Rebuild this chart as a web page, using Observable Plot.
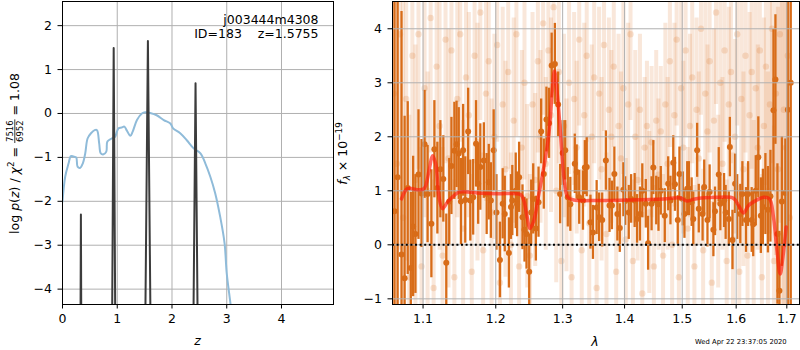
<!DOCTYPE html>
<html><head><meta charset="utf-8">
<script src="https://cdn.jsdelivr.net/npm/d3@7"></script>
<script src="https://cdn.jsdelivr.net/npm/@observablehq/plot@0.6"></script>
<style>
body{margin:0;background:#fff;}
#wrap{position:relative;width:800px;height:350px;overflow:hidden;font-family:"DejaVu Sans";}
#wrap svg{position:absolute;top:0;}
#wrap text{white-space:pre;}
</style></head><body><div id="wrap"></div>
<script>
// ---------- left panel: log p(z) ----------
const pzZ = [0, 0.049, 0.11, 0.153, 0.2, 0.25, 0.275, 0.32, 0.37, 0.415, 0.458, 0.52, 0.587, 0.63, 0.67, 0.70, 0.75, 0.8, 0.82, 0.9, 0.96, 1.02, 1.08, 1.13, 1.18, 1.24, 1.28, 1.36, 1.45, 1.51, 1.60, 1.72, 1.85, 1.97, 2.02, 2.15, 2.27, 2.40, 2.52, 2.61, 2.70, 2.79, 2.88, 2.96, 3.0, 3.07, 3.10];
const pzV = [-2.01, -1.44, -1.14, -0.97, -0.98, -1.0, -1.21, -1.24, -1.14, -0.91, -0.57, -0.45, -0.38, -0.38, -0.68, -0.91, -0.93, -0.87, -0.64, -0.57, -0.53, -0.34, -0.32, -0.30, -0.4, -0.51, -0.42, -0.15, 0.0, 0.03, 0.01, -0.04, -0.15, -0.23, -0.34, -0.45, -0.61, -0.80, -0.91, -1.14, -1.44, -1.82, -2.35, -2.95, -3.64, -4.35, -4.7];
const spikeZ = [0.336, 0.935, 1.56, 2.43];
const spikeH = [-2.3, 1.49, 1.65, 0.69];
const spikeW = [0.006, 0.027, 0.045, 0.036];
const zTicks = [0, 1, 2, 3, 4];
const pTicks = [-4, -3, -2, -1, 0, 1, 2];
const fieldName = "j003444m4308";
const objLine = "ID=183    z=1.5755";

// ---------- right panel: spectrum ----------
const binL = [1.063,1.067,1.072,1.076,1.080,1.084,1.087,1.090,1.094,1.098,
1.102,1.106,1.111,1.115,1.119,1.123,1.127,1.131,1.135,1.138,
1.142,1.145,1.148,1.151,1.154,1.157,1.161,1.164,1.168,1.172,
1.175,1.178,1.183,1.187,1.190,1.193,1.197,1.201,1.206,1.210,
1.213,1.219,1.222,1.224,1.229,1.231,1.234,1.239,1.242,1.245,
1.249,1.252,1.255,1.259,1.263,1.267,1.271,1.275,1.279,1.283,
1.288,1.293,1.296,1.300,1.304,1.308,1.312,1.319,1.322,1.326,
1.332,1.335,1.338,1.344,1.348,1.354,1.358,1.363,1.369,1.375,
1.379,1.383,1.388,1.392,1.398,1.401,1.407,1.411,1.417,1.421,
1.426,1.430,1.436,1.440,1.446,1.449,1.454,1.458,1.462,1.469,
1.475,1.479,1.484,1.487,1.492,1.495,1.501,1.504,1.509,1.512,
1.517,1.520,1.527,1.530,1.537,1.540,1.546,1.550,1.557,1.560,
1.567,1.570,1.577,1.580,1.586,1.588,1.593,1.598,1.602,1.608,
1.612,1.619,1.623,1.630,1.633,1.638,1.643,1.648,1.652,1.657,
1.662,1.667,1.673,1.677,1.681,1.685,1.690,1.697,1.702,1.708];
const binF = [0.62,1.25,-0.18,-0.62,1.05,-0.43,0.34,0.20,1.30,0.95,
1.86,0.94,0.39,1.77,1.05,1.40,1.22,-0.33,0.80,1.46,
1.74,1.86,1.69,0.80,1.75,0.83,2.10,0.82,0.88,1.87,
1.13,1.44,1.56,0.94,1.16,0.82,1.75,0.60,-0.28,0.76,
0.57,-0.15,0.70,0.82,1.00,0.75,1.25,0.51,0.28,0.20,
-0.50,0.60,0.85,0.30,0.79,2.10,1.31,2.32,2.25,3.32,
3.35,2.60,0.94,1.70,1.75,0.88,0.75,1.50,1.35,0.88,
0.82,1.43,1.44,0.42,0.23,0.69,0.51,0.46,1.56,0.73,
0.73,1.31,0.57,0.31,1.02,0.81,0.60,0.85,0.82,0.48,
0.57,1.00,0.76,0.03,0.76,1.43,0.82,0.75,1.00,0.54,
1.13,0.82,1.52,1.12,0.46,1.31,0.85,0.57,1.04,1.04,
0.79,0.48,1.75,0.67,0.57,1.07,0.46,0.98,0.28,0.62,
1.30,0.76,0.82,0.60,0.48,1.81,0.09,1.13,0.70,0.57,
0.94,0.46,0.94,0.46,0.38,1.00,1.62,0.54,0.70,0.94,
0.65,0.90,2.49,3.06,0.20,-0.85,0.80,0.96,2.50,3.00];
const binE = [6,6,4.5,3.0,1.6,1.4,1.3,1.1,1.2,1.0,
1.0,0.9,1.0,0.9,0.85,0.9,0.8,0.9,0.8,0.9,
0.9,0.8,0.85,0.8,0.85,0.8,0.8,0.75,0.7,0.8,
0.75,0.8,0.7,0.75,0.7,0.7,0.75,0.7,0.7,0.65,
0.7,0.65,0.6,0.65,0.7,0.6,0.65,0.6,0.6,0.65,
0.7,0.6,0.65,0.6,0.65,0.6,0.65,0.6,0.65,0.6,
0.75,0.6,0.55,0.6,0.55,0.55,0.5,0.55,0.5,0.5,
0.55,0.5,0.55,0.5,0.5,0.5,0.45,0.5,0.55,0.5,
0.45,0.5,0.5,0.45,0.5,0.45,0.5,0.45,0.5,0.45,
0.5,0.5,0.45,0.5,0.5,0.5,0.45,0.5,0.45,0.5,
0.5,0.45,0.5,0.5,0.45,0.5,0.5,0.45,0.5,0.5,
0.45,0.5,0.5,0.45,0.5,0.5,0.5,0.5,0.5,0.45,
0.5,0.5,0.5,0.5,0.5,0.55,0.55,0.55,0.6,0.55,
0.6,0.6,0.6,0.6,0.6,0.65,0.75,0.7,0.7,0.75,
0.8,0.85,1.5,1.2,1.3,1.1,1.2,1.0,4.0,6.0];

const rawL = [1.062,1.066,1.070,1.074,1.078,1.082,1.086,1.090,1.094,1.098,
1.102,1.106,1.110,1.114,1.118,1.122,1.126,1.130,1.134,1.138,
1.142,1.146,1.150,1.154,1.158,1.162,1.166,1.170,1.174,1.178,
1.182,1.186,1.190,1.194,1.198,1.202,1.206,1.210,1.214,1.218,
1.222,1.226,1.230,1.234,1.238,1.242,1.246,1.250,1.254,1.258,
1.262,1.266,1.270,1.274,1.278,1.282,1.286,1.290,1.294,1.298,
1.302,1.306,1.310,1.314,1.318,1.322,1.326,1.330,1.334,1.338,
1.342,1.346,1.350,1.354,1.358,1.362,1.366,1.370,1.374,1.378,
1.382,1.386,1.390,1.394,1.398,1.402,1.406,1.410,1.414,1.418,
1.422,1.426,1.430,1.434,1.438,1.442,1.446,1.450,1.454,1.458,
1.462,1.466,1.470,1.474,1.478,1.482,1.486,1.490,1.494,1.498,
1.502,1.506,1.510,1.514,1.518,1.522,1.526,1.530,1.534,1.538,
1.542,1.546,1.550,1.554,1.558,1.562,1.566,1.570,1.574,1.578,
1.582,1.586,1.590,1.594,1.598,1.602,1.606,1.610,1.614,1.618,
1.622,1.626,1.630,1.634,1.638,1.642,1.646,1.650,1.654,1.658,
1.662,1.666,1.670,1.674,1.678,1.682,1.686,1.690,1.694,1.698,
1.702,1.706];
const rawF = [2.8,1.5,3.9,0.5,2.7,-0.6,3.5,1.2,3.9,-0.4,
2.9,1.0,4.2,-0.8,3.3,2.2,-0.2,3.8,1.6,3.6,
-0.6,2.7,3.9,0.3,3.1,2.4,-0.5,3.5,1.9,4.3,
-0.1,2.8,3.4,0.6,2.0,3.7,-0.7,2.6,1.4,3.2,
0.0,2.3,3.9,-0.4,1.8,3.0,0.9,-0.2,2.6,1.2,
3.4,2.0,4.1,1.5,3.6,2.4,4.4,1.0,3.2,-0.3,
2.2,1.1,3.0,-0.6,2.7,1.8,3.8,-0.1,2.4,3.5,
0.4,2.0,3.1,-0.8,2.8,1.4,3.7,0.2,2.5,2.0,
3.3,-0.5,2.2,1.6,2.9,0.1,2.6,3.9,-0.3,2.0,
1.2,2.5,-0.9,1.8,2.2,0.6,1.9,-0.4,2.3,1.3,
2.1,-0.2,2.6,1.5,3.4,0.0,2.4,3.8,-0.6,2.9,
1.8,3.6,0.3,2.2,3.1,-0.4,2.5,1.6,4.0,-0.1,
2.8,2.1,3.4,-0.7,2.3,4.3,0.8,3.0,1.5,3.6,
-0.3,2.6,3.2,0.1,2.0,3.9,-0.5,2.7,1.4,3.5,
-0.2,2.4,3.2,0.5,2.9,1.8,3.6,-0.6,2.2,3.3,
1.0,2.6,4.0,-0.3,2.8,1.4,3.9,0.8,2.5,1.8,
3.5,0.5];
const rawE = [5,5,4,4,3,3,2.8,2.5,2.5,2.2,
2.4,2.2,2.5,2.0,2.4,2.3,2.0,2.3,2.4,2.2,
1.8,2.2,2.0,2.0,2.2,1.9,1.8,2.0,2.2,2.0,
1.8,2.0,1.9,2.1,1.9,1.8,1.7,1.8,2.0,1.8,
1.7,1.9,1.9,1.6,1.8,1.8,1.7,1.5,1.7,1.6,
1.7,1.6,1.7,1.6,1.7,1.8,1.8,1.7,1.7,1.6,
1.7,1.6,1.7,1.5,1.6,1.6,1.6,1.5,1.7,1.6,
1.6,1.7,1.6,1.5,1.6,1.7,1.6,1.5,1.7,1.6,
1.5,1.5,1.7,1.6,1.6,1.5,1.5,1.6,1.5,1.6,
1.5,1.4,1.5,1.3,1.2,1.5,1.4,1.5,1.3,1.4,
1.2,1.5,1.5,1.6,1.6,1.5,1.7,1.6,1.5,1.7,
1.6,1.6,1.5,1.7,1.6,1.5,1.7,1.6,1.6,1.5,
1.7,1.6,1.7,1.5,1.7,1.7,1.6,1.7,1.6,1.7,
1.5,1.8,1.7,1.6,1.8,1.7,1.6,1.8,1.8,1.8,
1.7,1.9,1.8,1.8,2.0,1.9,2.0,1.9,2.0,2.2,
2.2,2.4,2.5,2.5,3,3,3.5,4,5,5,
5,6];

const modelL = [1.072, 1.0797, 1.0926, 1.1013, 1.108, 1.1124, 1.1168, 1.1212, 1.1258, 1.1326, 1.1415, 1.1484, 1.1784, 1.2022, 1.2362, 1.241, 1.246, 1.25, 1.256, 1.2635, 1.2711, 1.2788, 1.284, 1.2874, 1.2916, 1.2967, 1.3019, 1.3081, 1.3175, 1.3548, 1.4098, 1.4671, 1.4966, 1.5086, 1.5206, 1.5636, 1.595, 1.6046, 1.6142, 1.6239, 1.6403, 1.6532, 1.6652, 1.6731, 1.68, 1.6866, 1.692, 1.6986];
const modelF = [0.85, 1.04, 1.02, 1.04, 1.38, 1.65, 1.5, 0.88, 0.67, 0.79, 0.91, 0.975, 0.957, 0.944, 0.93, 0.82, 0.51, 0.30, 0.45, 0.94, 1.44, 2.06, 2.86, 3.22, 2.8, 2.06, 1.25, 0.88, 0.83, 0.82, 0.83, 0.85, 0.87, 0.81, 0.845, 0.88, 0.86, 0.73, 0.59, 0.73, 0.83, 0.88, 0.85, 0.51, -0.1, -0.54, -0.23, 0.33];
const lamTicks = [1.1, 1.2, 1.3, 1.4, 1.5, 1.6, 1.7];
const fTicks = [-1, 0, 1, 2, 3, 4];
const stamp = "Wed Apr 22 23:37:05 2020";

// ---------- build tables ----------
const pz = pzZ.map((z, i) => ({z, v: pzV[i]}));
const spikes = spikeZ.flatMap((z, i) => [
  {id: i, z: z - spikeW[i], v: -4.4},
  {id: i, z, v: spikeH[i]},
  {id: i, z: z + spikeW[i], v: -4.4}
]);
const bins = binL.map((l, i) => ({l, f: binF[i], e: binE[i]}));
const raw = rawL.map((l, i) => ({l, f: rawF[i], e: rawE[i]}));
const model = modelL.map((l, i) => ({l, f: modelF[i]}));

const fmt = d => (d < 0 ? "\u2212" : "") + Math.abs(d);
const FS = "12.5px";
const GRID = "#b0b0b0";
const ORANGE = "#d86c18";

const wrap = document.getElementById("wrap");

const left = Plot.plot({
  width: 340, height: 350,
  marginLeft: 62, marginRight: 7, marginTop: 1, marginBottom: 46,
  style: {fontFamily: "DejaVu Sans", fontSize: FS, color: "black", background: "transparent", overflow: "visible"},
  x: {domain: [0, 4.95]},
  y: {domain: [-4.35, 2.55]},
  marks: [
    Plot.gridX(zTicks, {stroke: GRID, strokeOpacity: 1, strokeWidth: 1}),
    Plot.gridY(pTicks, {stroke: GRID, strokeOpacity: 1, strokeWidth: 1}),
    Plot.line(pz, {x: "z", y: "v", stroke: "#8fbbd9", strokeWidth: 2, curve: "catmull-rom", clip: true}),
    Plot.line(spikes, {x: "z", y: "v", z: "id", stroke: "#3c3c3c", strokeWidth: 2, clip: true}),
    Plot.axisX({ticks: zTicks, tickSize: 4.5, tickPadding: 5, label: null, tickFormat: fmt}),
    Plot.axisY({ticks: pTicks, tickSize: 4.5, tickPadding: 6, label: null, tickFormat: fmt}),
    Plot.frame({stroke: "black", strokeWidth: 1}),
    Plot.text([fieldName + "\n" + objLine], {frameAnchor: "top-right", textAnchor: "end", lineAnchor: "top", dx: -15, dy: 13, lineHeight: 1.12, fontSize: 12.5})
  ]
});
left.style.left = "0px";
wrap.appendChild(left);

const right = Plot.plot({
  width: 465, height: 350,
  marginLeft: 57, marginRight: 1, marginTop: 1, marginBottom: 46,
  style: {fontFamily: "DejaVu Sans", fontSize: FS, color: "black", background: "transparent", overflow: "visible"},
  x: {type: "log", domain: [1.0605, 1.726]},
  y: {domain: [-1.105, 4.505]},
  marks: [
    Plot.ruleX(raw, {x: "l", y1: d => d.f - d.e, y2: d => d.f + d.e, stroke: ORANGE, strokeOpacity: 0.16, strokeWidth: 4, clip: true}),
    Plot.dot(raw, {x: "l", y: "f", r: 3.2, fill: ORANGE, fillOpacity: 0.18, stroke: "none", clip: true}),
    Plot.ruleX(bins, {x: "l", y1: d => d.f - d.e, y2: d => d.f + d.e, stroke: ORANGE, strokeWidth: 2.3, clip: true}),
    Plot.dot(bins, {x: "l", y: "f", r: 3, fill: ORANGE, stroke: "none", clip: true}),
    Plot.gridX(lamTicks, {stroke: GRID, strokeOpacity: 1, strokeWidth: 1}),
    Plot.gridY(fTicks, {stroke: GRID, strokeOpacity: 1, strokeWidth: 1}),
    Plot.line(model, {x: "l", y: "f", stroke: "#ff1a0a", strokeOpacity: 0.65, strokeWidth: 3.5, curve: "catmull-rom", clip: true}),
    Plot.ruleY([0], {stroke: "black", strokeWidth: 2, strokeDasharray: "2,2.6"}),
    Plot.axisX({ticks: lamTicks, tickSize: 4.5, tickPadding: 5, label: null, tickFormat: d => d.toFixed(1)}),
    Plot.axisY({ticks: fTicks, tickSize: 4.5, tickPadding: 6, label: null, tickFormat: fmt}),
    Plot.frame({stroke: "black", strokeWidth: 1})
  ]
});
right.style.left = "335px";
wrap.appendChild(right);

// ---------- overlay labels ----------
const ov = d3.select(wrap).append("svg")
  .attr("width", 800).attr("height", 350)
  .style("left", "0px").style("pointer-events", "none")
  .attr("font-family", "DejaVu Sans").attr("fill", "black");

// left y label: log p(z) / chi^2 = 7516/6952 = 1.08
{
  const g = ov.append("g");
  const t1 = g.append("text").attr("font-size", 12.5).attr("x", 0).attr("y", 0);
  t1.append("tspan").text("log ");
  t1.append("tspan").attr("font-style", "italic").text("p");
  t1.append("tspan").text("(");
  t1.append("tspan").attr("font-style", "italic").text("z");
  t1.append("tspan").text(") / ");
  t1.append("tspan").attr("font-style", "italic").text("\u03c7");
  t1.append("tspan").attr("font-size", 8.75).attr("dy", -5).text("2");
  t1.append("tspan").attr("dy", 5).text(" = ");
  const w1 = t1.node().getComputedTextLength();
  const num = g.append("text").attr("font-size", 8.5).attr("text-anchor", "middle").text("7516");
  const den = g.append("text").attr("font-size", 8.5).attr("text-anchor", "middle").text("6952");
  const wf = Math.max(num.node().getComputedTextLength(), den.node().getComputedTextLength()) + 2;
  const cx = w1 + wf / 2;
  num.attr("x", cx).attr("y", -6.3);
  den.attr("x", cx).attr("y", 3.6);
  g.append("line").attr("x1", w1).attr("x2", w1 + wf).attr("y1", -4.2).attr("y2", -4.2).attr("stroke", "black").attr("stroke-width", 0.8);
  const t3 = g.append("text").attr("font-size", 12.5).attr("x", w1 + wf).attr("y", 0).text(" = 1.08");
  const W = w1 + wf + t3.node().getComputedTextLength();
  g.attr("transform", `translate(19,${153.5 + W / 2}) rotate(-90)`);
}
// right y label: f_lambda x 10^-19
{
  const g = ov.append("g");
  const t = g.append("text").attr("font-size", 12.5).attr("x", 0).attr("y", 0);
  t.append("tspan").attr("font-style", "italic").text("f");
  t.append("tspan").attr("font-style", "italic").attr("font-size", 8.75).attr("dy", 3).text("\u03bb");
  t.append("tspan").attr("dy", -3).text(" \u00d7 10");
  t.append("tspan").attr("font-size", 8.75).attr("dy", -5).text("\u221219");
  const W = t.node().getComputedTextLength();
  g.attr("transform", `translate(347,${153.5 + W / 2}) rotate(-90)`);
}
// x labels
ov.append("text").attr("x", 197.5).attr("y", 345).attr("font-size", 12.5).attr("font-style", "italic").attr("text-anchor", "middle").text("z");
ov.append("text").attr("x", 595).attr("y", 346).attr("font-size", 12.5).attr("font-style", "italic").attr("text-anchor", "middle").text("\u03bb");
// timestamp
ov.append("text").attr("x", 695).attr("y", 344).attr("font-size", 6.8).text(stamp);
</script></body></html>
